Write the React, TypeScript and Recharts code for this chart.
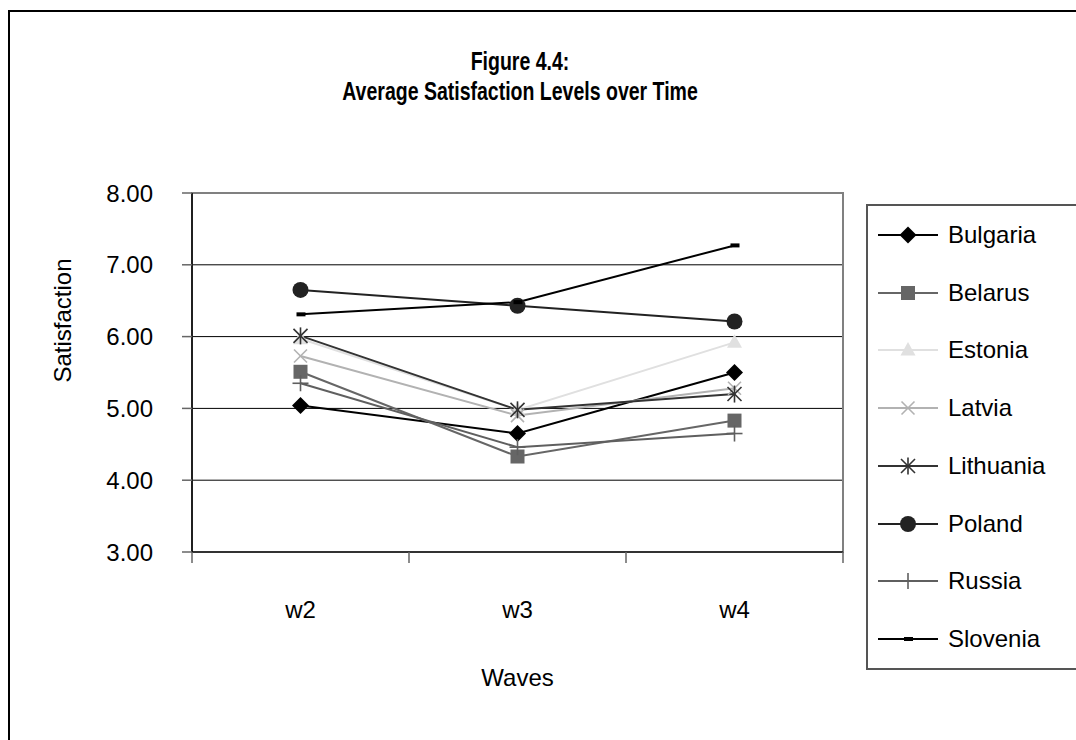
import { LineChart, Line, XAxis, YAxis, CartesianGrid, Legend, ReferenceArea, Label } from 'recharts';

const waves = ['w2', 'w3', 'w4'];
const bulgaria = [5.04, 4.65, 5.5];
const belarus = [5.51, 4.33, 4.83];
const estonia = [5.97, 4.98, 5.92];
const latvia = [5.73, 4.9, 5.28];
const lithuania = [6.01, 4.98, 5.2];
const poland = [6.65, 6.43, 6.21];
const russia = [5.35, 4.46, 4.65];
const slovenia = [6.31, 6.48, 7.27];
const yTicks = [3, 4, 5, 6, 7, 8];
const edgeTicks = [0, 1, 2, 3];

const series = [
  { key: 'Bulgaria', values: bulgaria, color: '#000000', marker: 'diamond' },
  { key: 'Belarus', values: belarus, color: '#666666', marker: 'square' },
  { key: 'Estonia', values: estonia, color: '#e0e0e0', marker: 'triangle' },
  { key: 'Latvia', values: latvia, color: '#b2b2b2', marker: 'x' },
  { key: 'Lithuania', values: lithuania, color: '#333333', marker: 'star' },
  { key: 'Poland', values: poland, color: '#222222', marker: 'circle' },
  { key: 'Russia', values: russia, color: '#5f5f5f', marker: 'plus' },
  { key: 'Slovenia', values: slovenia, color: '#000000', marker: 'dash' },
];

const data = waves.map((w, i) => {
  const row: Record<string, string | number> = { wave: w, idx: i };
  series.forEach((s) => {
    row[s.key] = s.values[i];
  });
  return row;
});

const font = '"Liberation Sans", Arial, sans-serif';

function Marker({ shape, cx, cy, color }: { shape: string; cx: number; cy: number; color: string }) {
  switch (shape) {
    case 'diamond':
      return <polygon points={`${cx},${cy - 8.5} ${cx + 8.5},${cy} ${cx},${cy + 8.5} ${cx - 8.5},${cy}`} fill={color} />;
    case 'square':
      return <rect x={cx - 7} y={cy - 7} width={14} height={14} fill={color} />;
    case 'triangle':
      return <polygon points={`${cx},${cy - 8} ${cx + 7.5},${cy + 5.5} ${cx - 7.5},${cy + 5.5}`} fill={color} />;
    case 'x':
      return (
        <g stroke={color} strokeWidth={1.6}>
          <line x1={cx - 6.5} y1={cy - 6.5} x2={cx + 6.5} y2={cy + 6.5} />
          <line x1={cx - 6.5} y1={cy + 6.5} x2={cx + 6.5} y2={cy - 6.5} />
        </g>
      );
    case 'star':
      return (
        <g stroke={color} strokeWidth={1.6}>
          <line x1={cx - 7} y1={cy - 7} x2={cx + 7} y2={cy + 7} />
          <line x1={cx - 7} y1={cy + 7} x2={cx + 7} y2={cy - 7} />
          <line x1={cx} y1={cy - 8.5} x2={cx} y2={cy + 8.5} />
        </g>
      );
    case 'circle':
      return <circle cx={cx} cy={cy} r={8} fill={color} />;
    case 'plus':
      return (
        <g stroke={color} strokeWidth={1.6}>
          <line x1={cx - 8} y1={cy} x2={cx + 8} y2={cy} />
          <line x1={cx} y1={cy - 8} x2={cx} y2={cy + 8} />
        </g>
      );
    default:
      return <rect x={cx - 4} y={cy - 2} width={9} height={4} fill={color} />;
  }
}

const renderLegend = () => (
  <div
    style={{
      width: 240,
      height: 466,
      border: '2px solid #555',
      boxSizing: 'border-box',
      background: '#fff',
      fontFamily: font,
    }}
  >
    {series.map((s) => (
      <div key={s.key} style={{ height: 57.75, display: 'flex', alignItems: 'center' }}>
        <svg width={60} height={20} style={{ marginLeft: 10 }}>
          <line x1={0} y1={10} x2={60} y2={10} stroke={s.color} strokeWidth={2} />
          <Marker shape={s.marker} cx={30} cy={10} color={s.color} />
        </svg>
        <span style={{ marginLeft: 10, fontSize: 24, color: '#000' }}>{s.key}</span>
      </div>
    ))}
  </div>
);

export default function App() {
  return (
    <div
      style={{
        position: 'fixed',
        left: 0,
        top: 0,
        width: 1076,
        height: 740,
        overflow: 'hidden',
        background: '#fff',
        fontFamily: font,
      }}
    >
      <div
        style={{
          position: 'absolute',
          left: 8,
          top: 10,
          width: 1100,
          height: 760,
          border: '2px solid #000',
        }}
      />
      <div
        style={{
          position: 'absolute',
          left: 0,
          top: 46,
          width: 1040,
          textAlign: 'center',
          fontWeight: 'bold',
          fontSize: 25,
          lineHeight: '30px',
          color: '#000',
          transform: 'scaleX(0.78)',
          transformOrigin: '520px 0',
        }}
      >
        <div>Figure 4.4:</div>
        <div>Average Satisfaction Levels over Time</div>
      </div>
      <div style={{ position: 'absolute', left: 0, top: 0 }}>
        <LineChart width={1076} height={740} data={data} margin={{ top: 193, right: 233, bottom: 128, left: 112 }}>
          <CartesianGrid vertical={false} stroke="#000" strokeWidth={1} />
          <ReferenceArea xAxisId="axisB" y1={3} y2={8} fill="none" stroke="#808080" strokeWidth={2} />
          <XAxis
            xAxisId="axisA"
            dataKey="idx"
            type="number"
            domain={[0, 3]}
            ticks={edgeTicks}
            allowDataOverflow
            tickFormatter={() => ''}
            tickSize={11}
            height={30}
            axisLine={{ stroke: '#333', strokeWidth: 2 }}
            tickLine={{ stroke: '#666', strokeWidth: 1.5 }}
          />
          <XAxis
            xAxisId="axisB"
            dataKey="wave"
            scale="band"
            height={30}
            axisLine={false}
            tickLine={false}
            tickSize={0}
            tickMargin={19}
            tick={{ fill: '#000', fontSize: 24 }}
          >
            <Label
              content={(props: any) => {
                const vb = props.viewBox;
                return (
                  <text
                    x={vb.x + vb.width / 2}
                    y={vb.y + 95}
                    textAnchor="middle"
                    dominantBaseline="central"
                    fontSize={24}
                    fill="#000"
                  >
                    Waves
                  </text>
                );
              }}
            />
          </XAxis>
          <YAxis
            domain={[3, 8]}
            ticks={yTicks}
            interval={0}
            width={80}
            tickSize={10}
            tickMargin={29}
            tickFormatter={(v: number) => v.toFixed(2)}
            tick={{ fill: '#000', fontSize: 24 }}
            axisLine={{ stroke: '#000', strokeWidth: 1.5 }}
            tickLine={{ stroke: '#666', strokeWidth: 1.5 }}
          >
            <Label
              content={(props: any) => {
                const vb = props.viewBox;
                const cx = vb.x - 50;
                const cy = vb.y + vb.height / 2 - 52;
                return (
                  <text
                    x={cx}
                    y={cy}
                    transform={`rotate(-90 ${cx} ${cy})`}
                    textAnchor="middle"
                    dominantBaseline="central"
                    fontSize={24}
                    fill="#000"
                  >
                    Satisfaction
                  </text>
                );
              }}
            />
          </YAxis>
          <Legend
            layout="vertical"
            align="center"
            verticalAlign="middle"
            content={renderLegend}
            wrapperStyle={{ left: 866, top: 204, width: 240, height: 466 }}
          />
          {series.map((s) => (
            <Line
              key={s.key}
              xAxisId="axisB"
              type="linear"
              dataKey={s.key}
              stroke={s.color}
              strokeWidth={2}
              isAnimationActive={false}
              activeDot={false}
              dot={(p: any) => (
                <Marker key={`${s.key}-${p.index}`} shape={s.marker} cx={p.cx} cy={p.cy} color={s.color} />
              )}
            />
          ))}
        </LineChart>
      </div>
    </div>
  );
}
